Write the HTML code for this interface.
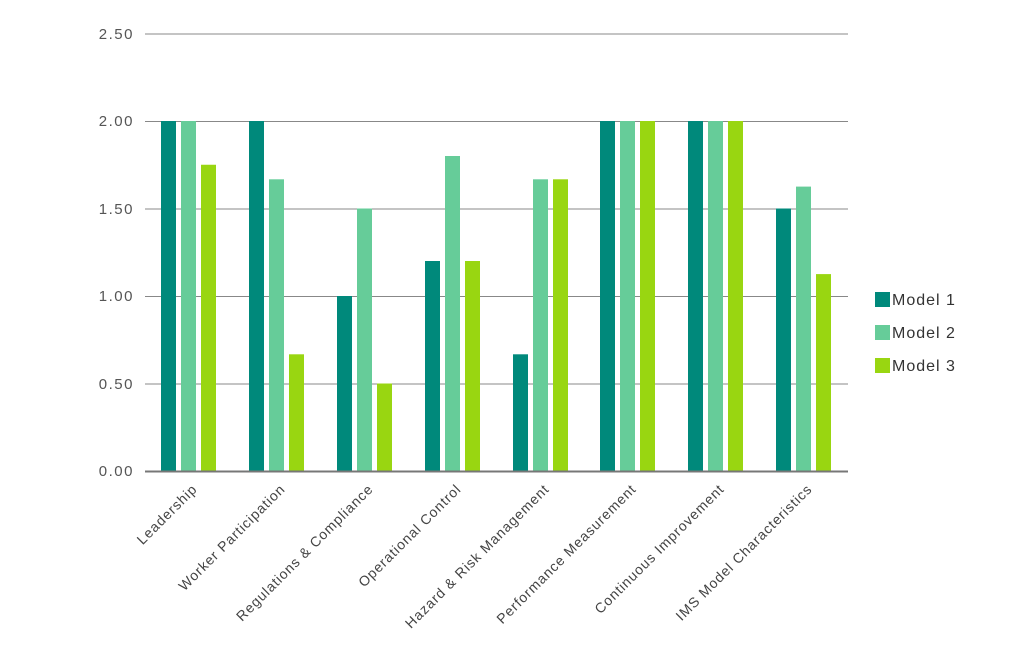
<!DOCTYPE html>
<html><head><meta charset="utf-8"><style>body{margin:0;background:#fff}</style></head><body>
<svg width="1024" height="648" xmlns="http://www.w3.org/2000/svg" font-family="Liberation Sans, sans-serif">
<g stroke="#888" stroke-width="1">
<line x1="145" x2="848" y1="34" y2="34"/><line x1="145" x2="848" y1="121.5" y2="121.5"/>
<line x1="145" x2="848" y1="209" y2="209"/><line x1="145" x2="848" y1="296.5" y2="296.5"/>
<line x1="145" x2="848" y1="384" y2="384"/>
</g>
<g fill="#555" font-size="15" text-anchor="end" letter-spacing="1.5">
<text x="134" y="39">2.50</text><text x="134" y="126">2.00</text><text x="134" y="214">1.50</text>
<text x="134" y="301">1.00</text><text x="134" y="389">0.50</text><text x="134" y="476">0.00</text>
</g>
<g>
<rect x="161" y="121" width="15" height="350" fill="#00897B"/>
<rect x="181" y="121" width="15" height="350" fill="#66CC99"/>
<rect x="201" y="164.75" width="15" height="306.25" fill="#99D611"/>

<rect x="249" y="121" width="15" height="350" fill="#00897B"/>
<rect x="269" y="179.3" width="15" height="291.7" fill="#66CC99"/>
<rect x="289" y="354.3" width="15" height="116.7" fill="#99D611"/>

<rect x="337" y="296" width="15" height="175" fill="#00897B"/>
<rect x="357" y="208.5" width="15" height="262.5" fill="#66CC99"/>
<rect x="377" y="383.5" width="15" height="87.5" fill="#99D611"/>

<rect x="425" y="261" width="15" height="210" fill="#00897B"/>
<rect x="445" y="156" width="15" height="315" fill="#66CC99"/>
<rect x="465" y="261" width="15" height="210" fill="#99D611"/>

<rect x="513" y="354.3" width="15" height="116.7" fill="#00897B"/>
<rect x="533" y="179.3" width="15" height="291.7" fill="#66CC99"/>
<rect x="553" y="179.3" width="15" height="291.7" fill="#99D611"/>

<rect x="600" y="121" width="15" height="350" fill="#00897B"/>
<rect x="620" y="121" width="15" height="350" fill="#66CC99"/>
<rect x="640" y="121" width="15" height="350" fill="#99D611"/>

<rect x="688" y="121" width="15" height="350" fill="#00897B"/>
<rect x="708" y="121" width="15" height="350" fill="#66CC99"/>
<rect x="728" y="121" width="15" height="350" fill="#99D611"/>

<rect x="776" y="208.5" width="15" height="262.5" fill="#00897B"/>
<rect x="796" y="186.6" width="15" height="284.4" fill="#66CC99"/>
<rect x="816" y="274.1" width="15" height="196.9" fill="#99D611"/>
</g>
<line x1="145" x2="848" y1="471.5" y2="471.5" stroke="#777" stroke-width="2"/>
<g font-size="14" fill="#444" text-anchor="end" letter-spacing="0.9">
<text transform="translate(198,490) rotate(-45)">Leadership</text>
<text transform="translate(286,490) rotate(-45)">Worker Participation</text>
<text transform="translate(374,490) rotate(-45)">Regulations &amp; Compliance</text>
<text transform="translate(462,490) rotate(-45)">Operational Control</text>
<text transform="translate(550,490) rotate(-45)">Hazard &amp; Risk Management</text>
<text transform="translate(637,490) rotate(-45)">Performance Measurement</text>
<text transform="translate(725,490) rotate(-45)">Continuous Improvement</text>
<text transform="translate(813,490) rotate(-45)">IMS Model Characteristics</text>
</g>
<g font-size="16" fill="#333" letter-spacing="1">
<rect x="875" y="292" width="15" height="15" fill="#00897B"/><text x="892" y="305">Model 1</text>
<rect x="875" y="325" width="15" height="15" fill="#66CC99"/><text x="892" y="338">Model 2</text>
<rect x="875" y="358" width="15" height="15" fill="#99D611"/><text x="892" y="371">Model 3</text>
</g>
</svg></body></html>
